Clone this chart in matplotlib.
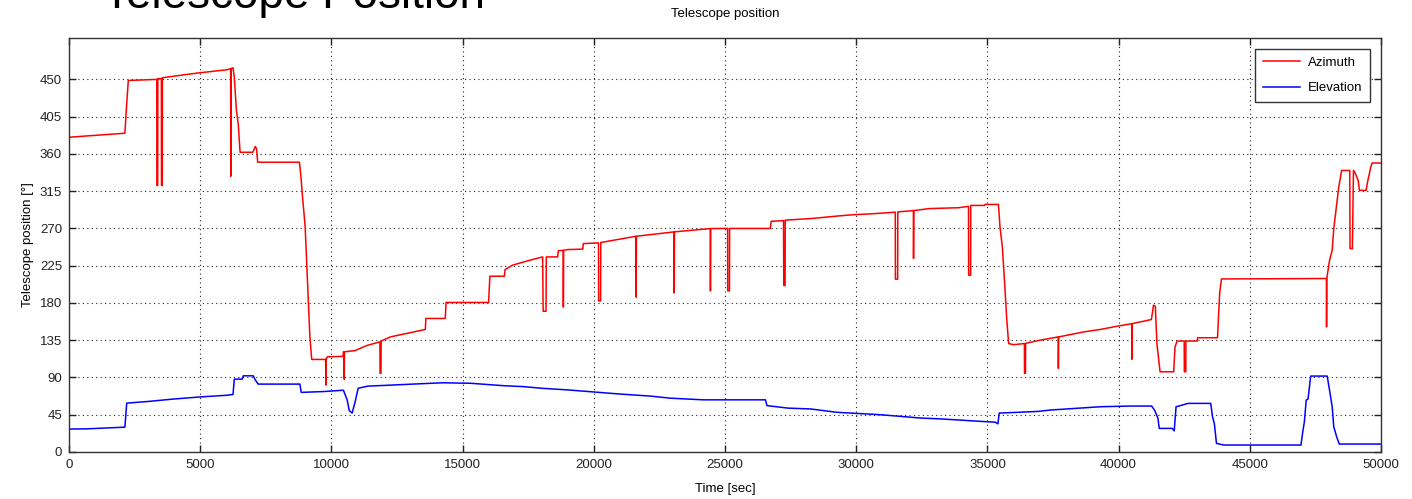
import matplotlib
matplotlib.use("Agg")
import matplotlib.pyplot as plt
import numpy as np

# ---------------- data ----------------
az_t = [0, 0, 150, 2130, 2200, 2260, 3340,
        3345, 3350, 3380, 3385,
        3520, 3525, 3555, 3560,
        4870, 6010, 6150,
        6160, 6165, 6170,
        6250, 6300, 6380, 6450, 6520, 7005, 7100, 7150, 7190, 8780,
        8830, 8900, 9000, 9060, 9120, 9180, 9250, 9780,
        9790, 9800,
        9850, 10440, 10460,
        10480, 10490, 10500,
        10900, 11350, 11850,
        11855, 11890, 11895,
        12250, 13150, 13580, 13600, 14340, 14370, 15990, 16040, 16590, 16620,
        16900, 17560, 18050,
        18070, 18180, 18190,
        18620, 18650, 18835,
        18840, 18850,
        19000, 19580, 19600, 20180,
        20185, 20260, 20265,
        21600, 21615, 21625,
        23060, 23065, 23075,
        24440, 24445, 24455,
        25100, 25105, 25170, 25175,
        26730, 26760, 27230,
        27240, 27290, 27295,
        28300, 29290, 29900, 30500, 31000, 31490,
        31495, 31580, 31585,
        32180, 32185, 32195,
        32800, 33900, 34280,
        34285, 34360, 34365,
        34900, 34910, 35420, 35480, 35570, 35650, 35740, 35810, 36000, 36410,
        36415, 36450, 36455,
        37000, 37700, 37705, 37715,
        38670, 39300, 39960, 40500, 40505, 40515,
        41250, 41330, 41400, 41460, 41580, 42100, 42150, 42230, 42500,
        42505, 42560, 42565,
        43000, 43010, 43770, 43850, 43920, 47920,
        47925, 47935,
        47960, 48040, 48140, 48200, 48300, 48390, 48500, 48810,
        48820, 48910, 48950, 49000, 49130, 49180, 49430, 49500, 49610, 49660, 50000]
az_v = [0, 380, 380.5, 385, 421, 448.7, 450,
        450, 322, 322, 451,
        451, 322, 322, 452,
        457.6, 461.6, 463,
        463, 333, 463,
        464, 452.7, 412.5, 396, 362, 362, 369, 366, 350, 350,
        336, 308, 272, 228, 183, 139, 111.8, 111.8,
        80.8, 112.5,
        115, 115.5, 121,
        121, 87.7, 121,
        122.5, 128.6, 133,
        95, 95, 134,
        139, 145, 148, 161.3, 161.3, 180.6, 180.6, 212.3, 212.3, 220.4,
        225.6, 231.6, 235.6,
        170, 170, 235.6,
        235.6, 243, 243.5,
        175, 243.5,
        244.5, 245, 251.7, 252.5,
        182.5, 182.5, 253,
        260.5, 187, 260.6,
        265.8, 192, 265.9,
        269.8, 194.6, 269.8,
        270, 194.6, 194.6, 270,
        270, 278.6, 279.5,
        201, 201, 280,
        282, 285, 286.6, 287.5, 288.5, 289.6,
        208.7, 208.7, 290,
        291.5, 233.6, 291.6,
        294, 295, 296.7,
        213.5, 213.5, 297.8,
        297.8, 299, 299, 271.8, 247.6, 207.5, 159, 131, 129.6, 131,
        95, 95, 131.2,
        135, 139, 101, 139,
        145, 148, 152, 155, 112, 155,
        160, 177.3, 176, 131, 96.9, 96.9, 127, 134, 134,
        96.9, 96.9, 134,
        134, 138, 138, 191.4, 209, 209.5,
        151, 209.5,
        215, 231.6, 243.7, 269.8, 296, 320, 340, 340,
        245.7, 245.7, 340, 338, 328, 316, 316, 328, 344, 349, 349]

el_t = [0, 0, 700, 2130, 2200, 3000, 4000, 5000, 6000, 6250, 6300, 6600, 6640,
        7020, 7100, 7210, 8800, 8850, 9700, 10400, 10460, 10600, 10680, 10790,
        10900, 11020, 11400, 11860, 13100, 14240, 15300, 16600, 17300, 18000,
        19000, 20000, 21000, 22160, 22920, 24180, 26540, 26600, 27400, 28260,
        29250, 29800, 30930, 31700, 32450, 33200, 33980, 34740, 35300, 35400,
        35450, 36200, 36920, 37410, 39330, 40470, 41260, 41380, 41500, 41550,
        42050, 42120, 42190, 42300, 42640, 43510, 43580, 43650, 43730, 44010,
        46950, 47010, 47080, 47150, 47220, 47320, 47950, 48080, 48140, 48200,
        48310, 48410, 50000]
el_v = [0, 27.7, 28, 30, 59, 61, 64, 66.5, 68.5, 69.5, 88, 88, 92,
        92, 87, 82, 82, 72, 73, 74.5, 74.5, 63, 50, 47,
        60, 77, 79.6, 80.2, 82, 83.6, 83, 80, 79, 77,
        75, 72.5, 70, 67.5, 65, 63, 63, 56, 53, 52,
        48, 47, 45, 43, 41, 40, 38.5, 37, 36, 34,
        47, 48, 49, 50.7, 54.7, 55.5, 55.5, 50, 40.6, 28.5,
        28.5, 25.5, 54.7, 55.5, 58.7, 58.7, 42.6, 34, 10.4, 8.4,
        8.4, 22.5, 36.6, 62.7, 64, 91.7, 91.7, 66.7, 54.7, 30.5,
        18.4, 9.6, 9.6]

x_ticks = list(range(0, 50001, 5000))
y_ticks = list(range(0, 451, 45))
series_names = ["Azimuth", "Elevation"]

# ---------------- figure ----------------
plt.rcParams['font.family'] = ['Liberation Sans', 'DejaVu Sans']
fig = plt.figure(figsize=(14.12, 4.99), dpi=100)
ax = fig.add_axes([69/1412, 1-452/499, (1381-69)/1412, (452-38)/499])

ax.plot(az_t, az_v, color='#ff0000', lw=1.1, label=series_names[0])
ax.plot(el_t, el_v, color='#0000ff', lw=1.1, label=series_names[1])

ax.set_xlim(0, 50000)
ax.set_ylim(0, 500)
ax.set_xticks(x_ticks)
ax.set_yticks(y_ticks)
ax.tick_params(direction='in', top=True, right=True, labelsize=9.5,
               length=5, width=1, colors='#222222', pad=5)
ax.grid(True, linestyle=(0, (1, 3)), color='#222222', linewidth=0.8)
for s in ax.spines.values():
    s.set_color('#333333')
    s.set_linewidth(1)

ax.set_title("Telescope position", fontsize=9.5, pad=15)
ax.set_xlabel("Time [sec]", fontsize=9.5, labelpad=9)
ax.set_ylabel("Telescope position [°]", fontsize=9.5, labelpad=4)

leg = ax.legend(loc='upper right', fontsize=9.5, fancybox=False, framealpha=1,
                edgecolor='#333333', handlelength=2.8, handletextpad=0.6,
                borderaxespad=0.8, labelspacing=1.0, borderpad=0.6)
leg.get_frame().set_linewidth(1)

# clipped slide title at the top
fig.text(103/1412, 1-8/499, "Telescope Position", fontsize=33,
         ha='left', va='baseline', color='black')

fig.savefig("out.png", dpi=100)
